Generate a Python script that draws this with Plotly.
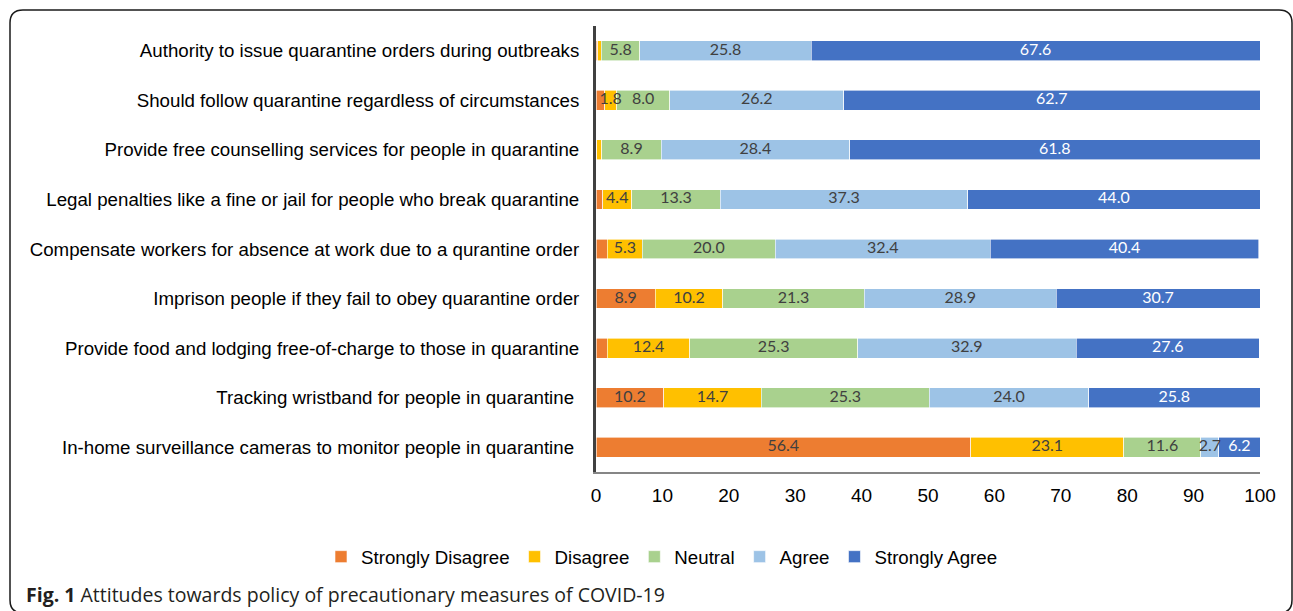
import plotly.graph_objects as go

categories = [
    "Authority to issue quarantine orders during outbreaks",
    "Should follow quarantine regardless of circumstances",
    "Provide free counselling services for people in quarantine",
    "Legal penalties like a fine or jail for people who break quarantine",
    "Compensate workers for absence at work due to a qurantine order",
    "Imprison people if they fail to obey quarantine order",
    "Provide food and lodging free-of-charge to those in quarantine",
    "Tracking wristband for people in quarantine ",
    "In-home surveillance cameras to monitor people in quarantine ",
]
series_names = ["Strongly Disagree", "Disagree", "Neutral", "Agree", "Strongly Agree"]
strongly_disagree = [0.3, 1.3, 0.1, 1.0, 1.7, 8.9, 1.7, 10.2, 56.4]
disagree = [0.5, 1.8, 0.8, 4.4, 5.3, 10.2, 12.4, 14.7, 23.1]
neutral = [5.8, 8.0, 8.9, 13.3, 20.0, 21.3, 25.3, 25.3, 11.6]
agree = [25.8, 26.2, 28.4, 37.3, 32.4, 28.9, 32.9, 24.0, 2.7]
strongly_agree = [67.6, 62.7, 61.8, 44.0, 40.4, 30.7, 27.6, 25.8, 6.2]
x_ticks = [0, 10, 20, 30, 40, 50, 60, 70, 80, 90, 100]
label_threshold = 1.75

series_values = [strongly_disagree, disagree, neutral, agree, strongly_agree]
colors = ["#ED7D31", "#FFC000", "#A9D18E", "#9DC3E6", "#4472C4"]
text_colors = ["#404040", "#404040", "#404040", "#404040", "#FFFFFF"]

# plot area in pixels
W, H = 1293, 611
L, R, T, B = 596, 1260, 26, 472


def px(x):
    return (x - L) / (R - L)


def py(y):
    return (B - y) / (B - T)


fig = go.Figure()
for name, vals, col in zip(series_names, series_values, colors):
    fig.add_trace(go.Bar(
        y=categories, x=vals, name=name, orientation="h",
        marker=dict(color=col, line=dict(color="white", width=0.6)),
        hoverinfo="x+y+name",
    ))

# data labels drawn on top of all bars (centre of each stacked segment)
bases = [0.0] * len(categories)
for vals, tcol in zip(series_values, text_colors):
    mids = [b + v / 2 for b, v in zip(bases, vals)]
    fig.add_trace(go.Scatter(
        x=mids, y=categories, mode="text",
        text=[f"{v:.1f}" if v >= label_threshold else "" for v in vals],
        textposition="middle center",
        textfont=dict(family="Lato, Open Sans, sans-serif", size=16, color=tcol),
        showlegend=False, hoverinfo="skip", cliponaxis=False,
    ))
    bases = [b + v for b, v in zip(bases, vals)]

# rounded border
x0, x1 = px(10), px(1292)
y0, y1 = py(10), py(613)
rx, ry = 13 / (R - L), 13 / (B - T)
path = (f"M {x0+rx},{y0} L {x1-rx},{y0} Q {x1},{y0} {x1},{y0-ry} "
        f"L {x1},{y1+ry} Q {x1},{y1} {x1-rx},{y1} L {x0+rx},{y1} "
        f"Q {x0},{y1} {x0},{y1+ry} L {x0},{y0-ry} Q {x0},{y0} {x0+rx},{y0} Z")

fig.update_layout(
    width=W, height=H,
    margin=dict(l=L, r=W - R, t=T, b=H - B, pad=0),
    barmode="stack", bargap=0.6,
    plot_bgcolor="white", paper_bgcolor="white",
    font=dict(family="Liberation Sans, Arial, sans-serif", size=18.7, color="#000000"),
    xaxis=dict(
        range=[0, 100], tickvals=x_ticks, ticktext=[str(t) for t in x_ticks],
        showgrid=False, zeroline=False, showline=True, linecolor="#868686", linewidth=2,
        tickfont=dict(size=19, color="#000000"), ticks="", ticklabelstandoff=5,
        fixedrange=True,
    ),
    yaxis=dict(
        autorange="reversed", showgrid=False, zeroline=False,
        showline=True, linecolor="#404040", linewidth=3,
        tickfont=dict(size=18.7, color="#000000"), ticks="", ticklabelstandoff=10,
        fixedrange=True,
    ),
    legend=dict(
        orientation="h", x=px(321), xanchor="left", y=py(557), yanchor="middle",
        font=dict(size=18.7, color="#000000"), traceorder="normal",
        bgcolor="rgba(0,0,0,0)",
    ),
    shapes=[dict(type="path", xref="paper", yref="paper", path=path,
                 line=dict(color="#1a1a1a", width=1.5), fillcolor="rgba(0,0,0,0)",
                 layer="below")],
    annotations=[dict(
        xref="paper", yref="paper", x=px(24), y=py(594), xanchor="left", yanchor="middle",
        text="<b>Fig. 1</b> Attitudes towards policy of precautionary measures of COVID-19",
        showarrow=False, font=dict(family="Open Sans, sans-serif", size=19.5, color="#231f20"),
    )],
)

fig.write_html("out.html")
